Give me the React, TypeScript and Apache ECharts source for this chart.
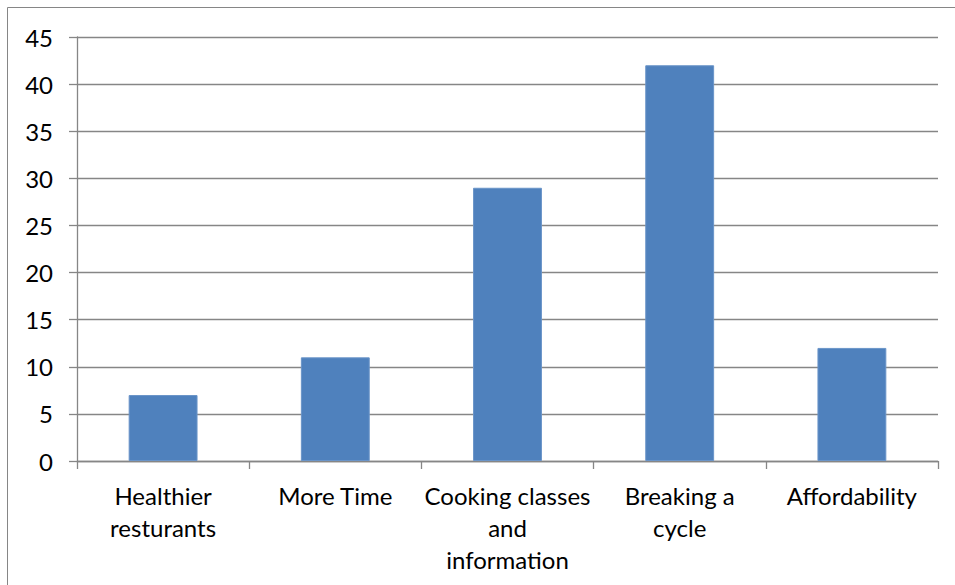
import React, { useEffect, useRef } from "react";
import * as echarts from "echarts";

const categories = [
  "Healthier\nresturants",
  "More Time",
  "Cooking classes\nand\ninformation",
  "Breaking a\ncycle",
  "Affordability",
];
const values = [7, 11, 29, 42, 12];
const yMin = 0;
const yMax = 45;
const yStep = 5;

const FONT = "Lato";
const GRAY = "#868686";

export default function App() {
  const ref = useRef<HTMLDivElement>(null);
  useEffect(() => {
    document.body.style.margin = "0";
    if (!ref.current) return;
    const chart = echarts.init(ref.current, undefined, { renderer: "svg" });
    chart.setOption({
      animation: false,
      backgroundColor: "#ffffff",
      graphic: [
        {
          type: "rect",
          shape: { x: 7.5, y: 7.5, width: 1200, height: 1200 },
          style: { fill: "none", stroke: GRAY, lineWidth: 1 },
          silent: true,
        },
      ],
      grid: { left: 77, right: 17, top: 37, bottom: 124, containLabel: false },
      xAxis: {
        type: "category",
        data: categories,
        boundaryGap: true,
        axisLine: { show: true, lineStyle: { color: GRAY, width: 1.3 } },
        axisTick: { show: true, length: 8, alignWithLabel: false, lineStyle: { color: GRAY, width: 1.3 } },
        axisLabel: {
          interval: 0,
          margin: 18,
          color: "#000000",
          fontFamily: FONT,
          fontSize: 24,
          lineHeight: 32,
        },
        splitLine: { show: false },
      },
      yAxis: {
        type: "value",
        min: yMin,
        max: yMax,
        interval: yStep,
        axisLine: { show: true, lineStyle: { color: GRAY, width: 1.3 } },
        axisTick: { show: true, length: 8, lineStyle: { color: GRAY, width: 1.3 } },
        axisLabel: {
          margin: 24,
          color: "#000000",
          fontFamily: FONT,
          fontSize: 24,
        },
        splitLine: { show: true, lineStyle: { color: GRAY, width: 1.3 } },
      },
      series: [
        {
          type: "bar",
          data: values,
          barWidth: "40%",
          itemStyle: { color: "#4F81BD", borderColor: "#6a94c8", borderWidth: 1 },
        },
      ],
    });
    return () => chart.dispose();
  }, []);
  return <div ref={ref} style={{ width: 955, height: 585 }} />;
}
